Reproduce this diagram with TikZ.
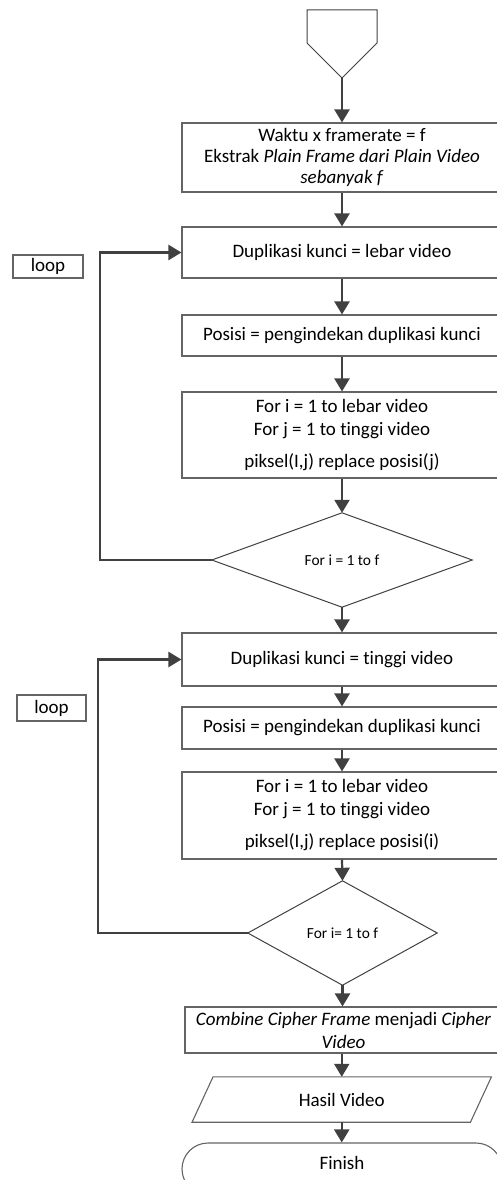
\documentclass[tikz,border=0pt]{standalone}
\usepackage{fontspec}
\setmainfont[Ligatures=NoCommon]{Carlito}
\usetikzlibrary{arrows.meta,calc}
\definecolor{boxgray}{RGB}{100,100,100}
\definecolor{arrowgray}{RGB}{64,64,64}
\begin{document}
\begin{tikzpicture}[x=1pt,y=-1pt,
  font=\fontsize{19}{23}\selectfont,
  boxline/.style={draw=boxgray, line width=1.1pt},
  proc/.style={boxline, rectangle, minimum width=320pt, inner sep=0pt, align=center, fill=white},
  ghost/.style={rectangle, inner sep=0pt, align=center},
  smalltext/.style={font=\fontsize{15.4}{18}\selectfont},
  flow/.style={draw=arrowgray, line width=2.2pt, -{Triangle[length=13pt,width=15pt]}},
  thinline/.style={draw=arrowgray, line width=1pt, line join=miter},
]
\useasboundingbox (0,0) rectangle (497,1180);

% off-page connector
\coordinate (optl) at (307,10);
\coordinate (optip) at (342,78);
\draw[thinline] (optl) -- (377,10) -- (377,43) -- (optip) -- (307,43) -- cycle;

\node[proc, minimum height=69pt] (b1) at (342,157.5)
  {Waktu x framerate = f\\[-2pt] Ekstrak \textit{Plain Frame dari Plain Video}\\[-2pt] \textit{sebanyak f}};
\node[proc, minimum height=51pt] (b2) at (342,252.5) {Duplikasi kunci = lebar video};
\node[proc, minimum height=41pt] (b3) at (342,335.5) {Posisi = pengindekan duplikasi kunci};
\node[proc, minimum height=86pt] (b4) at (342,435)
  {For i = 1 to lebar video\\ For j = 1 to tinggi video\\[9pt] piksel(I,j) replace posisi(j)};
\node[ghost, smalltext, minimum width=260pt, minimum height=94pt] (d1) at (342,560) {For i = 1 to f};
\draw[thinline] (d1.north) -- (d1.east) -- (d1.south) -- (d1.west) -- cycle;

\node[proc, minimum height=53pt] (b5) at (342,659.5) {Duplikasi kunci = tinggi video};
\node[proc, minimum height=42pt] (b6) at (342,728) {Posisi = pengindekan duplikasi kunci};
\node[proc, minimum height=87pt] (b7) at (342,815.5)
  {For i = 1 to lebar video\\ For j = 1 to tinggi video\\[9pt] piksel(I,j) replace posisi(i)};
\node[ghost, smalltext, minimum width=189pt, minimum height=104pt] (d2) at (342.5,933) {For i= 1 to f};
\draw[thinline] (d2.north) -- (d2.east) -- (d2.south) -- (d2.west) -- cycle;

\node[proc, minimum width=317pt, minimum height=46pt] (b8) at (343.5,1030)
  {\textit{Combine Cipher Frame} menjadi \textit{Cipher}\\ \textit{Video}};
\node[ghost, minimum width=278pt, minimum height=45pt] (hasil) at (341.75,1099.5) {Hasil Video};
\draw[boxline] ($(hasil.north west)+(10.5,0)$) -- ($(hasil.north east)+(10.5,0)$)
  -- ($(hasil.south east)+(-10.5,0)$) -- ($(hasil.south west)+(-10.5,0)$) -- cycle;
\node[boxline, rounded corners=26pt, minimum width=320pt, minimum height=52pt, inner sep=0pt, text depth=12pt] (fin) at (342,1169) {Finish};

\node[boxline, minimum width=70pt, minimum height=23pt, inner sep=0pt] (loop1) at (48,266.5) {loop};
\node[boxline, minimum width=69pt, minimum height=26pt, inner sep=0pt] (loop2) at (51.5,708) {loop};

% connectors
\coordinate (l1) at (100,0);
\coordinate (l2) at (98,0);
\draw[flow] (optip) -- (b1.north);
\draw[flow] (b1.south) -- (b2.north);
\draw[flow] (b2.south) -- (b3.north);
\draw[flow] (b3.south) -- (b4.north);
\draw[flow] (b4.south) -- (d1.north);
\draw[flow] (d1.west) -- (d1.west -| l1) -- (l1 |- b2.west) -- (b2.west);
\draw[flow] (d1.south) -- (b5.north);
\draw[flow] (b5.south) -- (b6.north);
\draw[flow] (b6.south) -- (b7.north);
\draw[flow] (b7.south) -- (d2.north);
\draw[flow] (d2.west) -- (d2.west -| l2) -- (l2 |- b5.west) -- (b5.west);
\draw[flow] (d2.south) -- (d2.south |- b8.north);
\draw[flow] (b8.south -| hasil.north) -- (hasil.north);
\draw[flow] (hasil.south) -- (hasil.south |- fin.north);
\end{tikzpicture}
\end{document}
